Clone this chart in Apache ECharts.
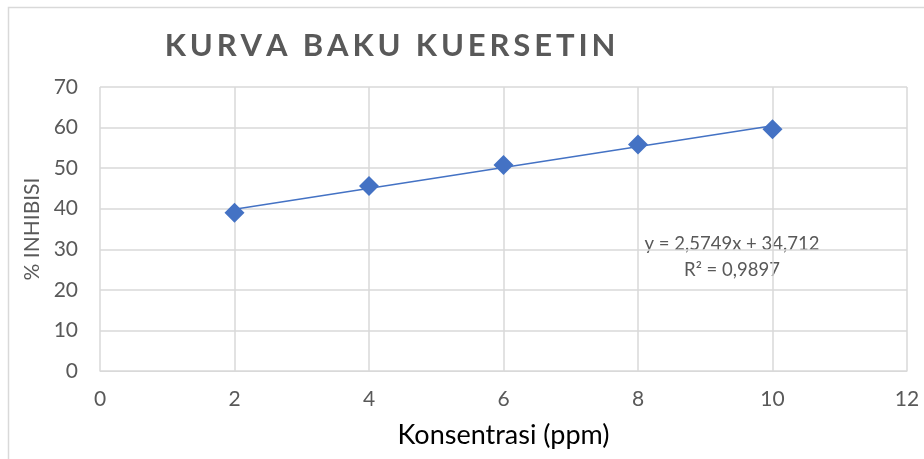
<!DOCTYPE html>
<html>
<head>
<meta charset="utf-8">
<script src="https://cdn.jsdelivr.net/npm/echarts@6/dist/echarts.min.js"></script>
<style>
  html, body { margin: 0; padding: 0; background: #fff; }
  #main { width: 924px; height: 459px; }
</style>
</head>
<body>
<div id="main"></div>
<script>
// data
let konsentrasi = [2, 4, 6, 8, 10];
let inhibisi = [39.0, 45.6, 50.8, 55.8, 59.6];
let xTicks = [0, 2, 4, 6, 8, 10, 12];
let yTicks = [0, 10, 20, 30, 40, 50, 60, 70];
let persamaan = ['y = 2,5749x + 34,712', 'R\u00b2 = 0,9897'];

// linear trendline (least squares) from the points
let n = konsentrasi.length;
let mx = konsentrasi.reduce((a, b) => a + b, 0) / n;
let my = inhibisi.reduce((a, b) => a + b, 0) / n;
let sxy = 0, sxx = 0;
for (let i = 0; i < n; i++) {
	sxy += (konsentrasi[i] - mx) * (inhibisi[i] - my);
	sxx += (konsentrasi[i] - mx) * (konsentrasi[i] - mx);
}
let slope = sxy / sxx;
let intercept = my - slope * mx;
let trend = [konsentrasi[0], konsentrasi[n - 1]].map(x => [x, intercept + slope * x]);

let font = 'Lato, "Open Sans", sans-serif';
let grey = '#595959';
// spread the title letters out a bit, like the original
let judul = 'KURVA BAKU KUERSETIN'.split('').join('\u2009');

let chart = echarts.init(document.getElementById('main'));
let option = {
	animation: false,
	backgroundColor: '#fff',
	title: {
		text: judul,
		left: 385,
		textAlign: 'center',
		top: 25,
		textStyle: { fontFamily: font, fontSize: 31, fontWeight: 'bold', color: grey }
	},
	grid: { left: 100, right: 17, top: 87, bottom: 88 },
	xAxis: {
		type: 'value',
		min: xTicks[0],
		max: xTicks[xTicks.length - 1],
		interval: 2,
		name: 'Konsentrasi (ppm)',
		nameLocation: 'middle',
		nameGap: 51,
		nameTextStyle: { fontFamily: font, fontSize: 27, color: '#000' },
		axisLine: { lineStyle: { color: '#d9d9d9' } },
		axisTick: { show: false },
		axisLabel: { fontFamily: font, fontSize: 21, color: grey, margin: 18 },
		splitLine: { lineStyle: { color: '#d9d9d9', width: 1.5 } }
	},
	yAxis: {
		type: 'value',
		min: yTicks[0],
		max: yTicks[yTicks.length - 1],
		interval: 10,
		name: '% INHIBISI',
		nameLocation: 'middle',
		nameGap: 56,
		nameTextStyle: { fontFamily: font, fontSize: 21, color: grey },
		axisLine: { show: false },
		axisTick: { show: false },
		axisLabel: { fontFamily: font, fontSize: 21, color: grey, margin: 22 },
		splitLine: { lineStyle: { color: '#d9d9d9', width: 1.5 } }
	},
	series: [{
		name: 'trend',
		type: 'line',
		data: trend,
		symbol: 'none',
		lineStyle: { color: '#4472C4', width: 1.5 },
		z: 2
	}, {
		name: '% inhibisi',
		type: 'scatter',
		data: konsentrasi.map((x, i) => [x, inhibisi[i]]),
		symbol: 'diamond',
		symbolSize: 20,
		itemStyle: { color: '#4472C4', opacity: 1 },
		z: 3
	}],
	graphic: [{
		type: 'rect',
		shape: { x: 8.5, y: 7.5, width: 940, height: 470 },
		style: { fill: 'none', stroke: '#d9d9d9', lineWidth: 1.5 },
		silent: true
	}, {
		type: 'text',
		x: 732, y: 244,
		style: { text: persamaan[0], fontFamily: font, fontSize: 18.5, fill: grey, align: 'center', verticalAlign: 'middle' }
	}, {
		type: 'text',
		x: 732, y: 270,
		style: { text: persamaan[1], fontFamily: font, fontSize: 18.5, fill: grey, align: 'center', verticalAlign: 'middle' }
	}]
};
chart.setOption(option);
</script>
</body>
</html>
